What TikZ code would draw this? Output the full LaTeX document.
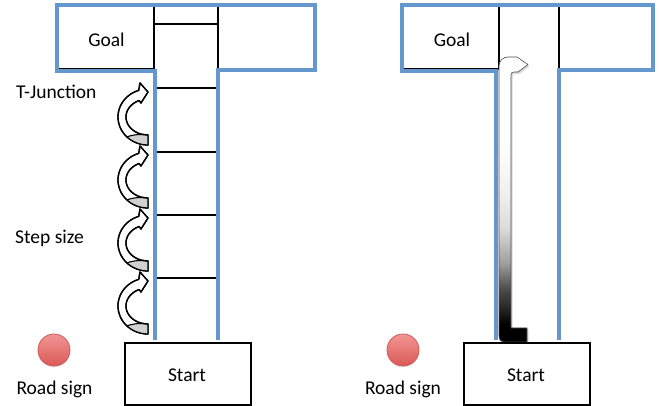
\documentclass[tikz,border=0pt]{standalone}
\usepackage{fontspec}
\setmainfont{Carlito}
\usetikzlibrary{shadows}

\definecolor{wallblue}{RGB}{101,151,207}
\definecolor{signtop}{RGB}{242,150,148}
\definecolor{signbot}{RGB}{218,88,86}
\definecolor{signrim}{RGB}{205,92,90}

% white at the top of the bar, fading to black at its foot
\pgfdeclareverticalshading{jbar}{100bp}{color(0bp)=(black); color(28bp)=(black);
  color(32bp)=(black!80); color(34bp)=(black!72); color(39bp)=(black!37);
  color(45bp)=(black!14); color(51bp)=(black!6); color(60bp)=(white); color(100bp)=(white)}

\begin{document}
\begin{tikzpicture}[x=1pt,y=-1pt,
  wall/.style={draw=wallblue, line width=4.5pt, line join=miter},
  grid/.style={draw=black, line width=1.5pt},
  lbl/.style={font=\fontsize{19.5}{23}\selectfont, inner sep=0pt},
  startbox/.style={draw=black, line width=1.8pt, fill=white, minimum width=126pt,
    minimum height=62pt, anchor=north west, inner sep=0pt},
  roadsign/.style={circle, minimum size=32pt, inner sep=0pt, top color=signtop,
    bottom color=signbot, draw=signrim, line width=0.8pt,
    drop shadow={opacity=0.2, shadow xshift=0pt, shadow yshift=-1.5pt}},
  hopband/.style={fill=white, draw=black, line width=1.3pt, line join=round},
  hopunder/.style={fill=black!18},
  jarrow/.style={shading=jbar, draw=black!70, line width=0.6pt, line join=round,
    drop shadow={opacity=0.3, shadow xshift=1.5pt, shadow yshift=-2pt}}]
\useasboundingbox (0,0) rectangle (665,406);

% ---------------- left maze: stepped corridor ----------------
% goal cell and the ladder of steps
\draw[grid] (57,5) -- (57,69) -- (154,69) -- (154,5);
\draw[grid] (218,5) -- (218,70);
\draw[grid] (154,24) -- (218,24);
\foreach \y in {88,152,215,278}
  \draw[grid] (155,\y) -- (217,\y);
% walls
\draw[wall] (155,340) -- (155,71) -- (57,71) -- (57,5) -- (315,5) -- (315,70)
  -- (218,70) -- (218,340);

% hop arrows, one per step
\foreach \T in {92,155,218,281}{
  \begin{scope}[shift={(148,\T)}]
    \path[hopband] (0,0) -- (-8,-9) -- (-9.3,-1.6)
      -- plot[domain=252:90,samples=40] ({30*cos(\x)},{25+28*sin(\x)})
      -- (0,43)
      -- plot[domain=90:246,samples=40] ({22*cos(\x)},{25+18*sin(\x)})
      -- (-7,11) -- cycle;
    \fill[hopunder] plot[domain=90:135,samples=20] ({30*cos(\x)},{25+28*sin(\x)})
      .. controls (-12,42) and (-5,42) .. (0,43) -- cycle;
    \draw[line width=1.1pt] (-21.2,44.8) .. controls (-12,42) and (-5,42) .. (0,43);
    \draw[line width=1.3pt, line join=round] (0,0) -- (-8,-9) -- (-9.3,-1.6)
      -- plot[domain=252:90,samples=40] ({30*cos(\x)},{25+28*sin(\x)})
      -- (0,43)
      -- plot[domain=90:246,samples=40] ({22*cos(\x)},{25+18*sin(\x)})
      -- (-7,11) -- cycle;
  \end{scope}
}

\node[startbox] (start1) at (124,342) {};
\node[lbl, anchor=base] (startlbl1) at (187,382) {Start};
\node[lbl, anchor=base] (goal1) at (106.5,47) {Goal};
\node[lbl, anchor=base west] (tjunc) at (16,99) {T-Junction};
\node[lbl, anchor=base west] (stepsize) at (15,244) {Step size};
\node[roadsign] (sign1) at (54,350) {};
\node[lbl, anchor=base] (signlbl1) at (54.5,395) {Road sign};

% ---------------- right maze: single jump ----------------
\draw[grid] (402,5) -- (402,69) -- (499,69) -- (499,5);
\draw[grid] (559,5) -- (559,70);
\draw[wall] (496,340) -- (496,71) -- (402,71) -- (402,5) -- (653,5) -- (653,70)
  -- (559,70) -- (559,340);

\path[jarrow] (527,342) -- (505,342) .. controls (501,342) and (499,340) .. (499,336)
  -- (499,66) .. controls (499,61) and (503,57) .. (508,57) -- (517,57)
  -- (528,64.5) -- (518,72) -- (514,72) .. controls (512,72) and (511,73) .. (511,75)
  -- (511,328) -- (527,328) -- cycle;

\node[startbox] (start2) at (463,342) {};
\node[lbl, anchor=base] (startlbl2) at (526,382) {Start};
\node[lbl, anchor=base] (goal2) at (452,47) {Goal};
\node[roadsign] (sign2) at (403,350) {};
\node[lbl, anchor=base] (signlbl2) at (403,395) {Road sign};
\end{tikzpicture}
\end{document}
